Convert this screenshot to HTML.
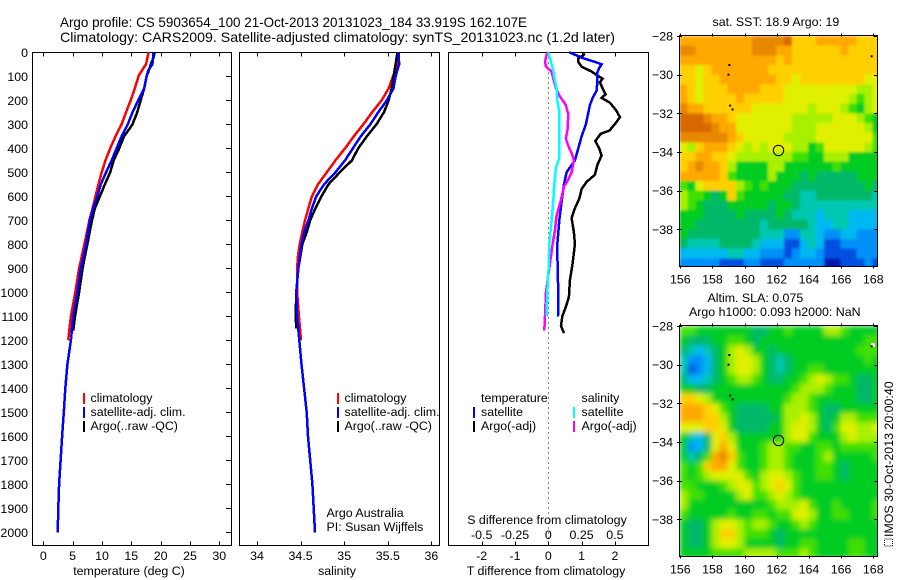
<!DOCTYPE html>
<html>
<head>
<meta charset="utf-8">
<title>Argo profile</title>
<style>
html,body{margin:0;padding:0;background:#fff;}
svg{display:block;}
text{font-family:"Liberation Sans",sans-serif;fill:#000;font-size:12.4px;}
</style>
</head>
<body>
<svg id="chart" width="900" height="580" viewBox="0 0 900 580" xmlns="http://www.w3.org/2000/svg">
<defs>
<filter id="soft" x="0" y="0" width="100%" height="100%"><feGaussianBlur stdDeviation="2.6" edgeMode="duplicate"/></filter>
<filter id="softer" x="0" y="0" width="100%" height="100%"><feGaussianBlur stdDeviation="1.3" edgeMode="duplicate"/></filter>
<clipPath id="clip-sla"><rect x="679.5" y="325.5" width="198" height="231"/></clipPath>
<clipPath id="clip-sst"><rect x="679.5" y="35.5" width="198" height="231"/></clipPath>
</defs>
<text x="60" y="27" textLength="467" lengthAdjust="spacingAndGlyphs" style="font-size:14px">Argo profile: CS 5903654_100 21-Oct-2013 20131023_184 33.919S 162.107E</text>
<text x="60" y="42" textLength="555" lengthAdjust="spacingAndGlyphs" style="font-size:14px">Climatology: CARS2009. Satellite-adjusted climatology: synTS_20131023.nc (1.2d later)</text>
<text x="129" y="575" text-anchor="middle">temperature (deg C)</text>
<text x="337" y="575" text-anchor="middle">salinity</text>
<text x="546" y="575" text-anchor="middle">T difference from climatology</text>
<text x="547" y="524" text-anchor="middle">S difference from climatology</text>
<text x="326.5" y="517">Argo Australia</text>
<text x="326.5" y="531">PI: Susan Wijffels</text>
<text x="712.5" y="26">sat. SST: 18.9 Argo: 19</text>
<text x="707.5" y="302">Altim. SLA: 0.075</text>
<text x="689" y="316">Argo h1000: 0.093 h2000: NaN</text>
<text transform="translate(893,537) rotate(-90)">IMOS 30-Oct-2013 20:00:40</text>
<rect x="884.5" y="539" width="8" height="7" fill="none" stroke="#000" stroke-width="1" stroke-dasharray="1 1"/>
<g id="layer"></g>
</svg>
<script>
var depthTicks = [0,100,200,300,400,500,600,700,800,900,1000,1100,1200,1300,1400,1500,1600,1700,1800,1900,2000];
var tempTicks = [0,5,10,15,20,25,30];
var salTicks = [34,34.5,35,35.5,36];
var salTickLabels = ['34','34.5','35','35.5','36'];
var tDiffTicks = [-2,-1,0,1,2];
var sDiffTicks = [-0.5,-0.25,0,0.25,0.5];
var lonTicks = [156,158,160,162,164,166,168];
var latTicks = [-28,-30,-32,-34,-36,-38];

var tempClimDepth = [0,50,95,150,200,250,300,350,400,450,500,550,600,650,700,800,900,1000,1100,1200];
var tempClimValue = [17.95,17.5,16.3,15.6,14.9,14.1,13.35,12.3,11.4,10.6,9.95,9.4,8.9,8.4,7.85,7.0,6.1,5.45,4.7,4.25];
var tempAdjDepth = [0,25,50,75,100,150,200,250,300,350,400,450,500,550,600,650,700,800,900,1000,1100,1200,1300,1400,1500,1600,1700,1800,1900,2000];
var tempAdjValue = [18.75,18.7,18.6,17.9,17.6,17.2,16.2,15.2,14.4,13.35,12.5,11.65,10.7,9.8,9.2,8.5,7.95,7.3,6.4,5.8,5.1,4.7,4.1,3.75,3.5,3.2,2.95,2.7,2.55,2.45];
var tempArgoDepth = [0,25,50,75,100,150,200,250,300,325,350,400,450,500,550,600,650,700,800,900,1000,1100,1160];
var tempArgoValue = [19,18.75,18.3,18,17.6,17.2,16.6,16,15.2,14.5,13.75,12.95,12,11.4,10.5,9.65,8.8,8.3,7.5,6.7,6.1,5.4,5.1];

var salClimDepth = [0,50,100,150,200,250,300,350,400,450,500,550,600,650,700,750,800,850,900,1000,1100,1200];
var salClimValue = [35.625,35.61,35.56,35.51,35.43,35.32,35.22,35.11,35.01,34.9,34.8,34.7,34.63,34.59,34.55,34.52,34.49,34.47,34.46,34.46,34.48,34.505];
var salAdjDepth = [0,50,100,150,200,250,300,350,400,450,500,550,600,650,700,750,800,900,1000,1100,1200,1300,1400,1500,1600,1700,1800,1900,2000];
var salAdjValue = [35.625,35.63,35.59,35.565,35.49,35.39,35.3,35.19,35.1,35.01,34.9,34.77,34.68,34.63,34.59,34.54,34.51,34.475,34.45,34.46,34.485,34.51,34.54,34.57,34.585,34.61,34.635,34.65,34.665];
var salArgoDepth = [0,50,100,150,200,250,300,350,400,450,500,550,600,650,700,750,800,900,1000,1100,1150];
var salArgoValue = [35.61,35.59,35.565,35.545,35.51,35.455,35.37,35.26,35.16,35.09,34.95,34.82,34.74,34.67,34.61,34.57,34.52,34.475,34.45,34.445,34.45];

var tDiffSatDepth = [0,25,40,50,65,85,125,160,190,220,300,350,400,450,500,550,600,700,800,900,1000,1100];
var tDiffSatValue = [0.63,1.05,1.4,1.6,1.53,1.47,1.47,1.45,1.33,1.25,1.13,1,0.9,0.8,0.55,0.47,0.42,0.33,0.27,0.28,0.3,0.29];
var tDiffArgoDepth = [5,15,25,40,60,80,95,110,125,150,175,190,210,240,270,290,310,325,340,370,400,430,470,510,540,570,610,650,690,750,800,880,950,1020,1060,1100,1140,1170];
var tDiffArgoValue = [1.1,1.03,0.9,0.9,1,1.3,1.45,1.63,1.55,1.63,1.72,1.6,1.85,2.03,2.15,2.05,1.93,1.85,1.57,1.41,1.53,1.6,1.47,1.4,1.15,1,0.93,0.8,0.7,0.77,0.8,0.73,0.65,0.62,0.53,0.42,0.38,0.47];
var sDiffSatDepth = [0,25,50,75,100,150,200,250,300,350,420,440,480,550,620,700,800,900,1000,1100];
var sDiffSatValue = [0,0.0125,0.025,0.0375,0.0425,0.0625,0.0675,0.0825,0.0825,0.0825,0.0825,0.0825,0.0575,0.045,0.0375,0.025,0.0075,0.0025,-0.0075,-0.0125];
var sDiffArgoDepth = [0,10,40,60,80,110,150,180,220,260,320,360,390,420,450,500,530,560,620,680,740,800,900,1000,1100,1160];
var sDiffArgoValue = [0,-0.0125,-0.025,-0.0175,0.025,0.0375,0.0575,0.0825,0.1325,0.15,0.145,0.1325,0.15,0.175,0.1925,0.175,0.15,0.1175,0.0925,0.0625,0.05,0.0325,0.0075,-0.0175,-0.025,-0.03];

var sstLevels = [
[11,11,11,11,11,11,11,11,11,12,12,12,12,13,10,10,10,11,11,11,11,11,10,10,10],
[12,12,11,11,11,11,11,11,11,12,12,12,11,11,10,10,10,10,10,10,11,10,10,10,10],
[11,11,11,11,11,11,11,11,11,11,11,11,10,11,10,10,10,10,10,10,10,10,10,10,10],
[10,10,9,10,11,11,11,11,11,11,11,10,10,10,10,10,10,10,10,10,10,10,10,10,10],
[10,10,9,10,10,11,11,11,11,11,11,11,10,10,9,10,10,10,10,10,10,10,10,9,9],
[11,10,9,10,10,10,11,11,11,11,10,10,10,9,9,9,9,9,9,9,9,9,8,8,9],
[11,10,9,10,10,10,10,11,10,10,10,10,10,9,9,9,9,9,9,9,9,8,7,8,9],
[12,11,11,10,10,10,10,10,10,9,9,9,9,9,9,9,8,9,9,9,8,7,6,8,9],
[13,13,13,12,11,11,10,9,9,9,9,9,9,9,8,8,8,8,8,9,9,9,8,7,6],
[13,13,13,13,12,11,11,9,9,9,9,9,9,9,8,8,8,9,9,9,9,9,9,8,6],
[12,12,12,12,12,12,11,10,9,9,9,9,9,8,8,8,8,9,9,9,9,9,9,9,7],
[9,8,10,11,11,11,10,9,8,9,8,9,9,9,8,8,6,7,9,9,9,9,9,8,7],
[10,10,11,11,10,10,9,8,8,8,8,8,8,8,7,7,6,6,8,8,8,6,6,6,6],
[10,11,12,11,11,10,8,6,6,6,6,8,8,6,6,6,6,6,6,7,6,6,6,6,6],
[11,11,11,11,11,10,7,6,6,6,6,8,6,6,6,5,6,5,5,5,5,5,6,6,6],
[7,6,9,10,10,10,10,8,7,6,7,6,6,6,5,5,5,5,5,5,5,5,5,6,5],
[8,7,7,6,5,6,10,7,6,6,6,6,6,5,5,4,4,5,5,5,5,5,5,5,4],
[8,7,6,5,5,5,6,6,6,6,6,5,6,6,5,4,4,4,4,4,4,4,4,4,4],
[6,6,6,5,5,5,5,6,5,5,5,5,6,5,4,4,4,3,4,4,4,3,3,3,3],
[6,6,5,5,5,5,5,5,5,5,4,5,5,5,5,5,4,3,3,4,4,3,3,3,3],
[6,5,5,5,5,5,5,5,5,5,4,4,4,2,2,4,4,3,2,2,3,3,2,2,2],
[5,4,4,4,4,5,5,5,5,4,3,3,3,1,1,3,4,3,1,1,2,2,2,2,2],
[3,3,3,3,3,3,4,4,3,3,2,2,2,1,2,3,3,2,1,1,1,1,2,2,2],
[2,2,2,2,2,1,1,1,2,2,1,1,1,2,2,2,2,2,0,0,1,1,1,2,1]
];
var slaLevels = [
[7,7,6,6,6,6,6,6,6,5,5,6,6,7,6,6,6,6,8,8,7,6,6,6,6],
[6,5,5,5,6,6,7,7,6,5,6,6,6,6,6,6,6,6,6,6,6,6,6,7,7],
[5,4,3,4,5,6,8,9,8,6,6,5,6,6,6,6,6,6,6,6,6,6,7,7,7],
[4,2,2,3,5,6,8,9,9,8,6,5,4,5,6,6,6,6,6,6,6,6,6,7,6],
[4,1,2,3,5,6,8,9,9,8,6,5,4,5,6,6,7,7,6,6,6,6,6,6,6],
[5,3,3,4,5,6,7,8,8,7,6,5,5,6,6,7,8,9,8,7,7,6,5,5,6],
[6,6,5,5,6,6,6,6,6,6,6,6,6,6,7,8,8,8,7,6,6,6,5,5,6],
[10,10,9,8,6,6,6,6,6,6,6,6,6,7,8,8,7,6,6,6,6,6,5,5,6],
[11,11,11,10,9,7,6,5,5,5,5,6,6,8,8,8,7,6,5,5,6,6,6,6,6],
[11,11,11,10,10,8,6,5,5,5,5,5,6,8,8,9,8,6,5,6,8,8,7,7,7],
[9,9,9,10,10,9,6,5,5,5,5,6,6,8,9,9,8,6,5,7,9,9,8,8,9],
[6,4,3,5,9,10,8,6,6,6,6,6,6,8,9,9,7,6,6,6,8,9,8,8,8],
[6,2,3,5,9,11,9,6,6,6,7,8,8,7,7,6,6,7,7,6,7,7,7,7,7],
[6,4,5,7,11,12,10,7,6,6,7,8,8,7,6,6,6,7,8,6,6,6,6,6,7],
[7,6,7,10,11,11,9,7,6,6,7,8,8,7,6,6,6,7,7,6,5,6,6,6,6],
[7,6,7,8,9,9,9,9,7,6,8,9,9,8,7,6,6,7,7,6,5,6,6,6,6],
[7,7,6,6,6,7,8,9,9,7,8,9,10,9,7,6,6,6,6,6,6,6,6,6,6],
[8,7,7,6,6,6,6,8,9,7,7,8,9,8,7,6,6,6,6,6,6,6,6,6,6],
[8,6,6,6,6,6,6,6,6,6,6,7,8,8,8,9,7,6,6,7,6,6,6,6,7],
[7,6,6,6,6,6,7,6,6,7,7,6,7,7,9,9,8,6,6,7,7,6,6,6,7],
[6,5,5,6,8,9,9,8,7,8,8,7,6,6,7,8,7,6,6,6,6,6,6,6,6],
[6,5,5,6,8,10,10,8,7,7,7,6,5,6,6,6,6,6,6,6,6,6,6,6,6],
[6,5,5,6,8,9,9,8,6,6,6,6,5,6,6,7,7,6,6,6,6,7,7,6,6],
[6,6,6,6,7,7,7,7,8,8,8,8,7,7,7,8,7,6,6,6,6,7,7,6,6]
];
var islandLon = [159.05,159,159.1,159.25,167.9];
var islandLat = [-29.5,-30,-31.6,-31.8,-29.05];
var profileLon = [162.107];
var profileLat = [-33.919];

var levelColors = ['#0018b0','#0050e0','#0090f8','#00b8f0','#00c8b0','#00b868','#00cc20','#40e000','#a8f000','#e0f000','#ffd000','#ffa800','#e88800','#d86800'];

var NS = 'http://www.w3.org/2000/svg';
var layer = document.getElementById('layer');
function make(tag, attrs, parent) {
  var el = document.createElementNS(NS, tag);
  for (var k in attrs) el.setAttribute(k, attrs[k]);
  (parent || layer).appendChild(el);
  return el;
}
function yDepth(d) { return 52.3 + d * 0.24; }
function xTemp(v) { return 43.3 + v * 5.867; }
function xSal(v) { return 257 + (v - 34) * 87.2; }
function xTDiff(v) { return 548.3 + v * 33.3; }
function xSDiff(v) { return 548.3 + v * 133.2; }
function xLon(v) { return 680.3 + (v - 156) * 16.08; }
function yLatTop(v) { return 36 + (-28 - v) * 19.33; }
function yLatBottom(v) { return 326 + (-28 - v) * 19.33; }

function drawLine(name, xs, vals, depths, color, width) {
  var pts = [];
  for (var i = 0; i < vals.length; i++) pts.push(xs(vals[i]).toFixed(1) + ',' + yDepth(depths[i]).toFixed(1));
  var el = make('polyline', {points: pts.join(' '), fill: 'none', stroke: color, 'stroke-width': width || 2.5, 'shape-rendering': 'crispEdges'});
  
  
}
function label(name, x, y, str, anchor) {
  var el = make('text', {x: x, y: y, 'text-anchor': anchor || 'start'});
  el.textContent = str;
  
  
  return el;
}
function tick(name, x1, y1, x2, y2) {
  var el = make('line', {x1: x1, y1: y1, x2: x2, y2: y2, stroke: '#000', 'stroke-width': 1, 'shape-rendering': 'crispEdges'});
  
  
}
function frame(name, x, y, w, h) {
  var el = make('rect', {x: x, y: y, width: w, height: h, fill: 'none', stroke: '#000', 'stroke-width': 1, 'shape-rendering': 'crispEdges'});
  
  
}
function legend(prefix, swatchX, textX, y, color, str) {
  var el = make('rect', {x: swatchX, y: y - 9, width: 2, height: 11, fill: color});
  
  
  label(prefix + '-label', textX, y, str);
}

/* profile panels */
var top0 = 52.5, bot0 = 545.5;
frame('temperature-panel-frame', 32.5, top0, 199, bot0 - top0);
frame('salinity-panel-frame', 239.5, top0, 200, bot0 - top0);
frame('difference-panel-frame', 448.5, top0, 200, bot0 - top0);

depthTicks.forEach(function (d) {
  label('depth-label-' + d, 28, yDepth(d) + 4.5, String(d), 'end');
  tick('depth-tick-' + d, 226, Math.round(yDepth(d)) + 0.5, 231, Math.round(yDepth(d)) + 0.5);
});
tempTicks.forEach(function (v) {
  var x = Math.round(xTemp(v)) + 0.5;
  tick('temp-tick-top-' + v, x, top0, x, top0 + 4);
  tick('temp-tick-bottom-' + v, x, bot0 - 4, x, bot0);
  label('temp-label-' + v, xTemp(v), 560, String(v), 'middle');
});
salTicks.forEach(function (v, i) {
  var x = Math.round(xSal(v)) + 0.5;
  tick('sal-tick-top-' + v, x, top0, x, top0 + 4);
  tick('sal-tick-bottom-' + v, x, bot0 - 4, x, bot0);
  label('sal-label-' + v, xSal(v), 560, salTickLabels[i], 'middle');
});
tDiffTicks.forEach(function (v) {
  var x = Math.round(xTDiff(v)) + 0.5;
  tick('tdiff-tick-top-' + v, x, top0, x, top0 + 4);
  tick('tdiff-tick-bottom-' + v, x, bot0 - 4, x, bot0);
  label('tdiff-label-' + v, xTDiff(v), 560, String(v), 'middle');
});
sDiffTicks.forEach(function (v) {
  label('sdiff-label-' + v, xSDiff(v), 539, String(v), 'middle');
});

var zero = make('line', {x1: 548.5, y1: top0, x2: 548.5, y2: bot0, stroke: '#000', 'stroke-width': 1, 'stroke-dasharray': '1 4', 'shape-rendering': 'crispEdges'});



drawLine('temp-climatology-line', xTemp, tempClimValue, tempClimDepth, '#ff0000');
drawLine('temp-argo-line', xTemp, tempArgoValue, tempArgoDepth, '#000000');
drawLine('temp-satellite-line', xTemp, tempAdjValue, tempAdjDepth, '#0000ff');
drawLine('sal-climatology-line', xSal, salClimValue, salClimDepth, '#ff0000');
drawLine('sal-argo-line', xSal, salArgoValue, salArgoDepth, '#000000');
drawLine('sal-satellite-line', xSal, salAdjValue, salAdjDepth, '#0000ff');
drawLine('tdiff-argo-line', xTDiff, tDiffArgoValue, tDiffArgoDepth, '#000000');
drawLine('tdiff-satellite-line', xTDiff, tDiffSatValue, tDiffSatDepth, '#0000ff');
drawLine('sdiff-argo-line', xSDiff, sDiffArgoValue, sDiffArgoDepth, '#ff00ff');
drawLine('sdiff-satellite-line', xSDiff, sDiffSatValue, sDiffSatDepth, '#00ffff');

legend('temp-legend-climatology', 83, 90.5, 402, '#ff0000', 'climatology');
legend('temp-legend-satellite', 83, 90.5, 416, '#0000ff', 'satellite-adj. clim.');
legend('temp-legend-argo', 83, 90.5, 430, '#000000', 'Argo(..raw -QC)');
legend('sal-legend-climatology', 337, 344.5, 402, '#ff0000', 'climatology');
legend('sal-legend-satellite', 337, 344.5, 416, '#0000ff', 'satellite-adj. clim.');
legend('sal-legend-argo', 337, 344.5, 430, '#000000', 'Argo(..raw -QC)');
label('diff-legend-temperature-heading', 481, 402, 'temperature');
legend('tdiff-legend-satellite', 473, 481, 416, '#0000ff', 'satellite');
legend('tdiff-legend-argo', 473, 481, 430, '#000000', 'Argo(-adj)');
label('diff-legend-salinity-heading', 581.5, 402, 'salinity');
legend('sdiff-legend-satellite', 573, 581.5, 416, '#00ffff', 'satellite');
legend('sdiff-legend-argo', 573, 581.5, 430, '#ff00ff', 'Argo(-adj)');

/* maps */
function drawMap(prefix, levels, yLat, parent) {
  var lonStart = 155.95, lonStep = 0.5, latStep = 0.5;
  levels.forEach(function (row, r) {
    row.forEach(function (lv, c) {
      var x0 = xLon(lonStart + c * lonStep), x1 = xLon(lonStart + (c + 1) * lonStep);
      var y0 = yLat(-28 - r * latStep), y1 = yLat(-28 - (r + 1) * latStep);
      var cell = make('rect', {x: x0.toFixed(2), y: y0.toFixed(2), width: (x1 - x0 + 0.5).toFixed(2), height: (y1 - y0 + 0.5).toFixed(2), fill: levelColors[lv], 'shape-rendering': 'crispEdges'}, parent);
      
      
    });
  });
}
function mapDecor(prefix, yLat, topY, botY) {
  islandLon.forEach(function (lon, i) {
    var mark = make('rect', {x: xLon(lon) - 1, y: yLat(islandLat[i]) - 1, width: 2, height: 2, fill: '#000'});
    
    
  });
  var c = make('circle', {cx: xLon(profileLon[0]), cy: yLat(profileLat[0]), r: 5.2, fill: 'none', stroke: '#000', 'stroke-width': 1});
  
  
  frame(prefix + '-frame', 679.5, topY, 198, botY - topY);
  lonTicks.forEach(function (v) {
    var x = Math.round(xLon(v)) + 0.5;
    tick(prefix + '-lon-tick-top-' + v, x, topY - 2, x, topY + 1);
    tick(prefix + '-lon-tick-bottom-' + v, x, botY - 1, x, botY + 2);
    label(prefix + '-lon-label-' + v, xLon(v), botY + 17, String(v), 'middle');
  });
  latTicks.forEach(function (v) {
    var y = Math.round(yLat(v)) + 0.5;
    tick(prefix + '-lat-tick-left-' + v, 677, y, 682, y);
    tick(prefix + '-lat-tick-right-' + v, 874, y, 878, y);
    label(prefix + '-lat-label-' + v, 673, yLat(v) + 4.5, '\u2212' + Math.abs(v), 'end');
  });
}

var sstClip = make('g', {'clip-path': 'url(#clip-sst)'});
var sstGroup = make('g', {filter: 'url(#softer)'}, sstClip);


drawMap('sst', sstLevels, yLatTop, sstGroup);
mapDecor('sst', yLatTop, 35.5, 266.5);

var slaClip = make('g', {'clip-path': 'url(#clip-sla)'});
var slaGroup = make('g', {filter: 'url(#soft)'}, slaClip);


drawMap('sla', slaLevels, yLatBottom, slaGroup);
var whitePatch = make('rect', {x: 871, y: 343, width: 4, height: 4, fill: '#fff'});


mapDecor('sla', yLatBottom, 325.5, 556.5);
</script>
</body>
</html>
